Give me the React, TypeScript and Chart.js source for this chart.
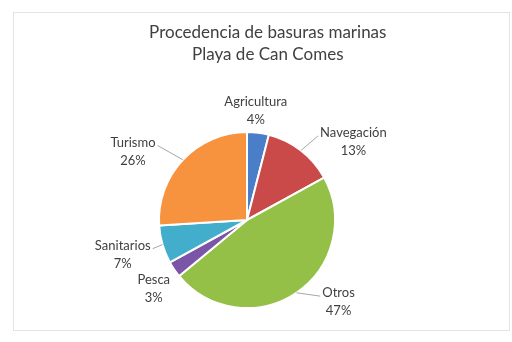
import React, { useEffect, useRef } from "react";
import { Chart, registerables } from "chart.js";

Chart.register(...registerables);

const titleLines = ["Procedencia de basuras marinas", "Playa de Can Comes"];
const categories = ["Agricultura", "Navegación", "Otros", "Pesca", "Sanitarios", "Turismo"];
const percentValues = [4, 13, 47, 3, 7, 26];
const sliceColors = ["#4a7ec9", "#c94a48", "#94c047", "#7b55a8", "#43aecb", "#f7923f"];

// label layout (Excel best-fit placement): angle shift from slice middle (deg), distance beyond radius (px)
const labelAngleShift = [-2.6, 15.9, -13.9, -2.3, 0.6, -12.2];
const labelDistance = [22, 44, 35, 28, 41, 45];
const labelLeader = [false, true, true, false, true, true];

const FONT = "Lato, 'Liberation Sans', sans-serif";
const TEXT_COLOR = "#404040";

const labelPlugin = {
  id: "outsideLabels",
  afterDraw(chart: any) {
    const ctx = chart.ctx as CanvasRenderingContext2D;
    const meta = chart.getDatasetMeta(0);
    const total = percentValues.reduce((a, b) => a + b, 0);
    ctx.save();
    ctx.fillStyle = TEXT_COLOR;
    ctx.font = `17px ${FONT}`;
    ctx.textAlign = "center";
    ctx.textBaseline = "middle";
    const titleX = chart.width * 0.523;
    titleLines.forEach((t, i) => ctx.fillText(t, titleX, 33 + i * 22));

    ctx.font = `13px ${FONT}`;
    const lineH = 18;
    meta.data.forEach((arc: any, i: number) => {
      const { x, y, startAngle, endAngle, outerRadius } = arc.getProps(
        ["x", "y", "startAngle", "endAngle", "outerRadius"],
        true
      );
      const mid = (startAngle + endAngle) / 2;
      const la = mid + (labelAngleShift[i] * Math.PI) / 180;
      const dist = outerRadius + labelDistance[i];
      const cx = x + dist * Math.cos(la);
      const cy = y + dist * Math.sin(la);
      const pct = Math.round((percentValues[i] / total) * 100) + "%";
      const lines = [categories[i], pct];
      const w = ctx.measureText(lines[0]).width;
      const halfW = w / 2;
      if (labelLeader[i]) {
        const ax = x + outerRadius * Math.cos(mid);
        const ay = y + outerRadius * Math.sin(mid);
        const lineY = cy - lineH / 2 + 3;
        const sideX = Math.cos(mid) >= 0 ? cx - halfW - 2 : cx + halfW + 2;
        ctx.strokeStyle = "#a6a6a6";
        ctx.lineWidth = 1;
        ctx.beginPath();
        ctx.moveTo(ax, ay);
        ctx.lineTo(sideX, lineY);
        ctx.stroke();
      }
      ctx.fillStyle = TEXT_COLOR;
      ctx.textAlign = "center";
      ctx.textBaseline = "middle";
      lines.forEach((l, k) => ctx.fillText(l, cx, cy - lineH / 2 + k * lineH));
    });
    ctx.restore();
  },
};

export default function App() {
  const ref = useRef<HTMLCanvasElement>(null);
  useEffect(() => {
    document.body.style.margin = "0";
    const chart = new Chart(ref.current!, {
      type: "pie",
      data: {
        labels: categories,
        datasets: [
          {
            data: percentValues,
            backgroundColor: sliceColors,
            borderColor: "#ffffff",
            borderWidth: 2,
          },
        ],
      },
      options: {
        animation: false,
        responsive: false,
        maintainAspectRatio: false,
        layout: { padding: { left: 158, right: 176, top: 131, bottom: 33 } },
        plugins: {
          legend: { display: false },
          title: { display: false },
          tooltip: { enabled: false },
        },
      },
      plugins: [labelPlugin],
    });
    return () => chart.destroy();
  }, []);
  return (
    <div style={{ position: "relative", width: 512, height: 342, background: "#fff" }}>
      <div
        style={{
          position: "absolute",
          left: 13,
          top: 12,
          width: 497,
          height: 319,
          border: "1px solid #e3e3e3",
          boxSizing: "border-box",
        }}
      />
      <canvas ref={ref} width={512} height={342} style={{ position: "absolute", left: 0, top: 0 }} />
    </div>
  );
}
